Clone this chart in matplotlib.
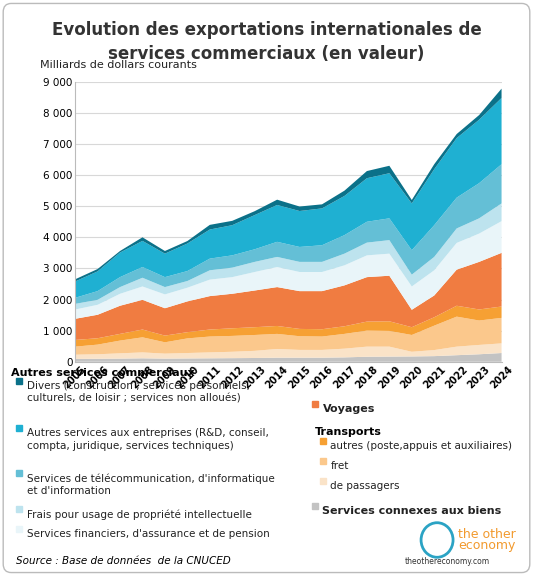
import numpy as np
import matplotlib.pyplot as plt
from matplotlib.patches import FancyBboxPatch, Rectangle

years = list(range(2005, 2025))
# cumulative tops (bottom -> top)
c_connexes = [90,95,100,110,100,105,110,115,120,130,130,130,140,160,165,170,180,210,240,280]
c_passagers = [226,240,270,300,260,280,300,320,350,410,380,380,420,485,485,320,375,485,540,590]
c_fret = [485,550,680,785,625,750,810,830,860,895,820,810,895,1000,990,860,1160,1450,1325,1410]
c_autres_tr = [700,755,895,1035,840,950,1035,1075,1110,1150,1055,1045,1140,1290,1300,1110,1430,1800,1680,1775]
c_voyages = [1380,1510,1800,1990,1720,1940,2110,2185,2290,2400,2270,2270,2455,2720,2765,1670,2130,2960,3210,3500]
c_financiers = [1680,1830,2185,2420,2165,2380,2640,2720,2885,3045,2885,2885,3100,3420,3475,2420,2940,3820,4120,4520]
c_pi = [1860,1990,2400,2700,2400,2595,2940,3025,3210,3370,3210,3210,3475,3830,3910,2800,3370,4285,4610,5090]
c_telecom = [2055,2270,2720,3045,2720,2915,3315,3420,3615,3855,3690,3745,4070,4500,4610,3585,4390,5275,5740,6350]
c_entreprises = [2580,2905,3510,3885,3475,3800,4250,4390,4715,5040,4845,4930,5330,5900,6060,5090,6190,7190,7780,8480]
c_divers = [2650,2980,3560,4000,3560,3880,4400,4530,4840,5210,4990,5060,5500,6130,6300,5200,6350,7320,7930,8780]

cums = [c_connexes, c_passagers, c_fret, c_autres_tr, c_voyages, c_financiers,
        c_pi, c_telecom, c_entreprises, c_divers]
colors = ['#c3c3c3', '#fae3c8', '#fbc88c', '#f6a033', '#f07c41', '#e9f5f9',
          '#bde3ee', '#64bfd6', '#1fb0d2', '#0b7189']
arr = np.array(cums, dtype=float)
layers = np.vstack([arr[0], np.diff(arr, axis=0)])

fig = plt.figure(figsize=(5.33, 5.76), dpi=100)
fig.patches.append(FancyBboxPatch((0.006, 0.006), 0.988, 0.988, boxstyle="round,pad=0,rounding_size=0.015",
                                  transform=fig.transFigure, fill=False, ec='#bbbbbb', lw=1))
ax = fig.add_axes([0.141, 0.372, 0.80, 0.486])
ax.stackplot(years, layers, colors=colors, lw=0)
ax.set_xlim(2005, 2024)
ax.set_ylim(0, 9000)
ax.set_yticks(range(0, 9001, 1000))
ax.set_yticklabels([f"{v:,}".replace(",", " ") for v in range(0, 9001, 1000)], fontsize=7.5)
ax.set_xticks(years)
ax.set_xticklabels([str(y) for y in years], rotation=45, fontsize=7, fontweight='bold', ha='center')
ax.grid(axis='y', color='#d8d8d8', lw=0.8)
ax.set_axisbelow(True)
for s in ['top', 'right']:
    ax.spines[s].set_visible(False)
ax.spines['left'].set_color('#bbbbbb')
ax.spines['bottom'].set_color('#bbbbbb')
ax.tick_params(length=0, pad=2)

fig.text(0.5, 0.963, "Evolution des exportations internationales de\nservices commerciaux (en valeur)",
         ha='center', va='top', fontsize=12, fontweight='bold', color='#333333', linespacing=1.4)
fig.text(0.075, 0.888, "Milliards de dollars courants", fontsize=8, color='#222222', va='center')

def W(y):
    return 1 - y / 576

def item(x, y, col, txt, fs=7.5, fw='normal'):
    fig.patches.append(Rectangle((x, W(y) - 0.006), 0.011, 0.011, transform=fig.transFigure,
                                 color=col))
    fig.text(x + 0.02, W(y), txt, fontsize=fs, fontweight=fw, va='top', color='#222222',
             linespacing=1.35, transform=fig.transFigure)

fig.text(0.02, W(373), "Autres services commerciaux", fontsize=8, fontweight='bold', va='center')
item(0.03, 381, colors[9], "Divers (construction ; services personnels,\nculturels, de loisir ; services non alloués)")
item(0.03, 428, colors[8], "Autres services aux entreprises (R&D, conseil,\ncompta, juridique, services techniques)")
item(0.03, 473, colors[7], "Services de télécommunication, d'informatique\net d'information")
item(0.03, 509, colors[6], "Frais pour usage de propriété intellectuelle")
item(0.03, 529, colors[5], "Services financiers, d'assurance et de pension")

item(0.585, 404, colors[4], "Voyages", fs=8, fw='bold')
fig.text(0.59, W(432), "Transports", fontsize=8, fontweight='bold', va='center')
item(0.60, 441, colors[3], "autres (poste,appuis et auxiliaires)")
item(0.60, 461, colors[2], "fret")
item(0.60, 481, colors[1], "de passagers")
item(0.585, 506, colors[0], "Services connexes aux biens", fs=8, fw='bold')

fig.text(0.03, W(561), "Source : Base de données  de la CNUCED", fontsize=7.5, style='italic', va='center')
fig.text(0.86, W(540), "the other\neconomy", fontsize=9, color='#f29a2e', ha='left', va='center', linespacing=0.9)
fig.text(0.76, W(561), "theothereconomy.com", fontsize=5.5, color='#333333', va='center')
fig.patches.append(plt.Circle((0.82, W(540)), 0.03, transform=fig.transFigure, color='#2ba3c4', fill=False, lw=2))

fig.savefig("out.png", dpi=100)
